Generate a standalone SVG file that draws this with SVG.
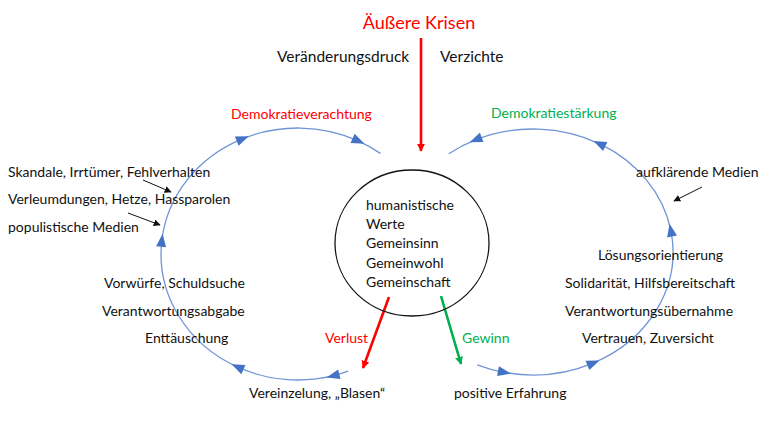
<svg xmlns="http://www.w3.org/2000/svg" width="768" height="436" viewBox="0 0 768 436">
<style>
text{font-family:Lato,"Liberation Sans",sans-serif;font-size:14px;fill:#111111}
.red{fill:#ff0000}
.green{fill:#00b050}
.loop{fill:none;stroke:#6f95d6;stroke-width:1.3}
.thin{fill:none;stroke:#111111;stroke-width:1}
</style>
<defs>
<marker id="tri" viewBox="-7 -6 14 12" markerWidth="14" markerHeight="12" markerUnits="userSpaceOnUse" orient="auto" refX="0" refY="0">
<path d="M-6,-5 L7,0 L-6,5 z" fill="#4472c4"/>
</marker>
<marker id="ah-red" viewBox="0 0 10 10" markerWidth="8" markerHeight="8" markerUnits="userSpaceOnUse" orient="auto" refX="9" refY="5">
<path d="M0,0 L10,5 L0,10 z" fill="#ff0000"/>
</marker>
<marker id="ah-green" viewBox="0 0 10 10" markerWidth="8" markerHeight="8" markerUnits="userSpaceOnUse" orient="auto" refX="9" refY="5">
<path d="M0,0 L10,5 L0,10 z" fill="#00b050"/>
</marker>
<marker id="ah-black" viewBox="0 0 10 10" markerWidth="7" markerHeight="7" markerUnits="userSpaceOnUse" orient="auto" refX="9" refY="5">
<path d="M0,0 L10,5 L0,10 z" fill="#111111"/>
</marker>
</defs>
<rect width="768" height="436" fill="#ffffff"/>

<g id="connectors">
<path id="loop-left" class="loop" marker-mid="url(#tri)" d="M348.2,371.2 A137,126 0 0 1 333.5,375.7 A137,126 0 0 1 237.9,367.2 A137,126 0 0 1 161.8,240.8 A137,126 0 0 1 242.3,138.9 A137,126 0 0 1 358.1,140.8 A137,126 0 0 1 380.4,153.4"/>
<path id="loop-right" class="loop" marker-mid="url(#tri)" d="M477.2,364.8 A140,123 0 0 0 503.9,372.3 A140,123 0 0 0 593.0,363.1 A140,123 0 0 0 670.9,230.6 A140,123 0 0 0 599.8,143.9 A140,123 0 0 0 476.1,139.6 A140,123 0 0 0 448.7,153.8"/>
<line x1="421" y1="38" x2="421" y2="151" stroke="#ff0000" stroke-width="2.6" marker-end="url(#ah-red)"/>
<line x1="389" y1="297" x2="363" y2="368" stroke="#ff0000" stroke-width="2.6" marker-end="url(#ah-red)"/>
<line x1="441" y1="296" x2="461" y2="364" stroke="#00b050" stroke-width="2.6" marker-end="url(#ah-green)"/>
<line class="thin" x1="143" y1="180" x2="171" y2="192" marker-end="url(#ah-black)"/>
<line class="thin" x1="128" y1="213" x2="160" y2="225" marker-end="url(#ah-black)"/>
<line class="thin" x1="702" y1="187" x2="674" y2="201" marker-end="url(#ah-black)"/>
</g>

<g id="krisen">
<text x="419" y="29" text-anchor="middle" class="red" style="font-size:18px">Äußere Krisen</text>
<text x="277" y="62" style="font-size:15.5px">Veränderungsdruck</text>
<text x="440" y="62" style="font-size:15.5px">Verzichte</text>
</g>

<g id="werte">
<ellipse cx="412" cy="243" rx="77" ry="73" fill="none" stroke="#111111" stroke-width="1.3"/>
<text x="366" y="210">humanistische</text>
<text x="366" y="229">Werte</text>
<text x="366" y="248">Gemeinsinn</text>
<text x="366" y="268">Gemeinwohl</text>
<text x="366" y="287">Gemeinschaft</text>
</g>

<g id="verachtung">
<text x="231" y="119" class="red">Demokratieverachtung</text>
<text x="8" y="177">Skandale, Irrtümer, Fehlverhalten</text>
<text x="8" y="204">Verleumdungen, Hetze, Hassparolen</text>
<text x="8" y="232">populistische Medien</text>
<text x="104" y="288">Vorwürfe, Schuldsuche</text>
<text x="102" y="316">Verantwortungsabgabe</text>
<text x="145" y="343">Enttäuschung</text>
<text x="325" y="343" class="red">Verlust</text>
<text x="249" y="398">Vereinzelung, „Blasen“</text>
</g>

<g id="staerkung">
<text x="491" y="118" class="green">Demokratiestärkung</text>
<text x="636" y="177">aufklärende Medien</text>
<text x="598" y="260">Lösungsorientierung</text>
<text x="565" y="288">Solidarität, Hilfsbereitschaft</text>
<text x="565" y="316">Verantwortungsübernahme</text>
<text x="582" y="343">Vertrauen, Zuversicht</text>
<text x="462" y="343" class="green">Gewinn</text>
<text x="454" y="398">positive Erfahrung</text>
</g>
</svg>
